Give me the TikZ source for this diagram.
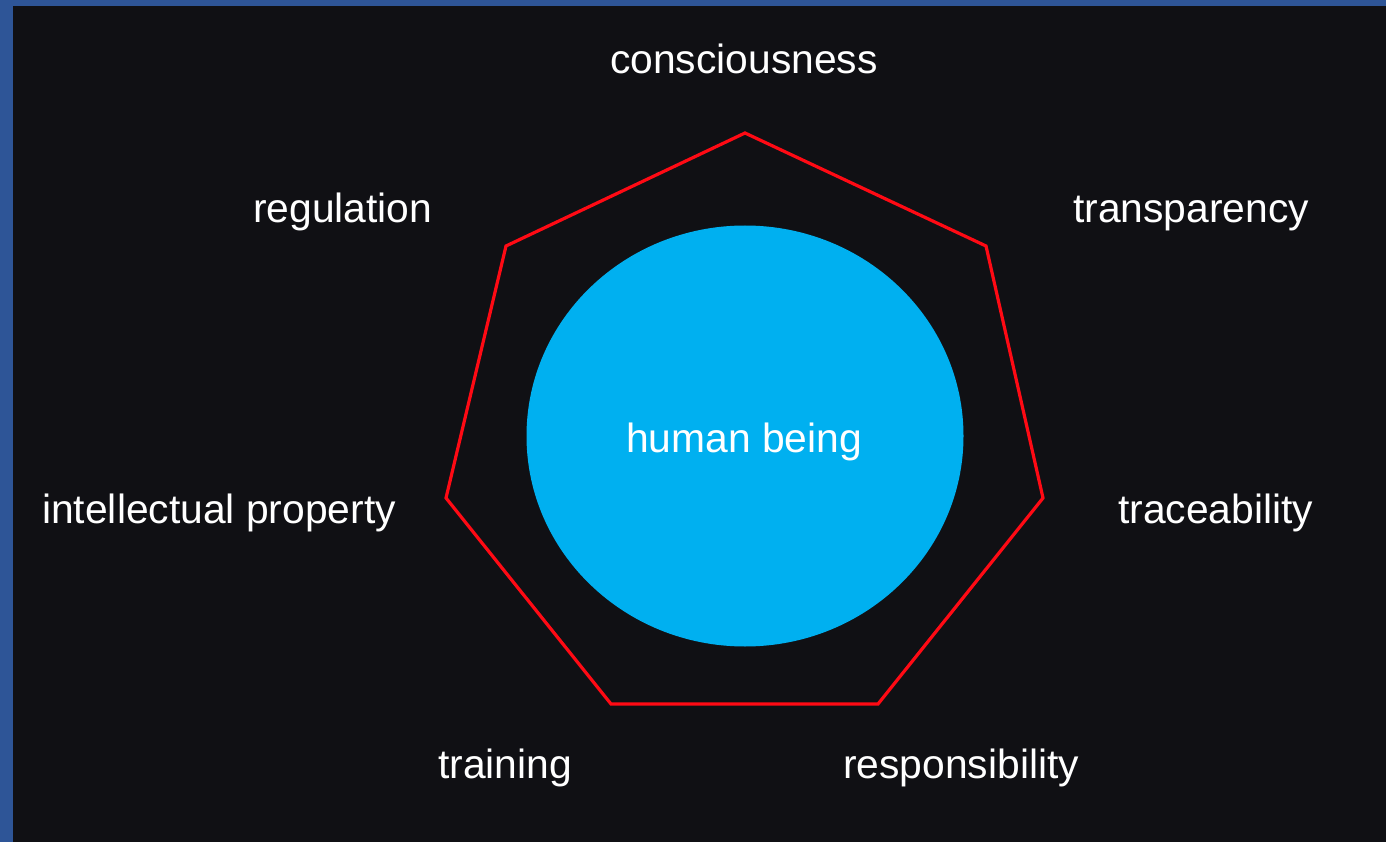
\documentclass[tikz,border=0pt]{standalone}
\usepackage{fontspec}
\setmainfont{Liberation Sans}
\usetikzlibrary{shapes.geometric}
\definecolor{framebl}{HTML}{2E5597}
\definecolor{bgdark}{HTML}{101014}
\definecolor{hred}{HTML}{FF0A14}
\definecolor{hcyan}{HTML}{00B0F0}
\begin{document}
\begin{tikzpicture}[x=1pt,y=-1pt,
  lbl/.style={text=white,inner sep=0pt,anchor=base west,font=\fontsize{40.8}{48}\selectfont}]
\useasboundingbox (0,0) rectangle (1386,842);
\fill[framebl] (0,0) rectangle (1386,842);
\fill[bgdark] (13,6) rectangle (1386,842);
% heptagon
\coordinate (v1) at (745,133);
\coordinate (v2) at (986,246);
\coordinate (v3) at (1043,498);
\coordinate (v4) at (878,704);
\coordinate (v5) at (611,704);
\coordinate (v6) at (446,498);
\coordinate (v7) at (506,246);
\draw[hred,line width=3.2pt,line join=miter] (v1) -- (v2) -- (v3) -- (v4) -- (v5) -- (v6) -- (v7) -- cycle;
% circle
\node[fill=hcyan,ellipse,minimum width=437pt,minimum height=421pt,inner sep=0pt] (c) at (745,436) {};
\node[lbl] (hb) at (626,452) {human being};
\node[lbl] (t1) at (610,74) {consciousness};
\node[lbl] (t2) at (1073,223) {transparency};
\node[lbl] (t3) at (1118,523) {traceability};
\node[lbl] (t4) at (843,778) {responsibility};
\node[lbl] (t5) at (438,778) {training};
\node[lbl] (t6) at (42,523) {intellectual property};
\node[lbl] (t7) at (253,223) {regulation};
\end{tikzpicture}
\end{document}
